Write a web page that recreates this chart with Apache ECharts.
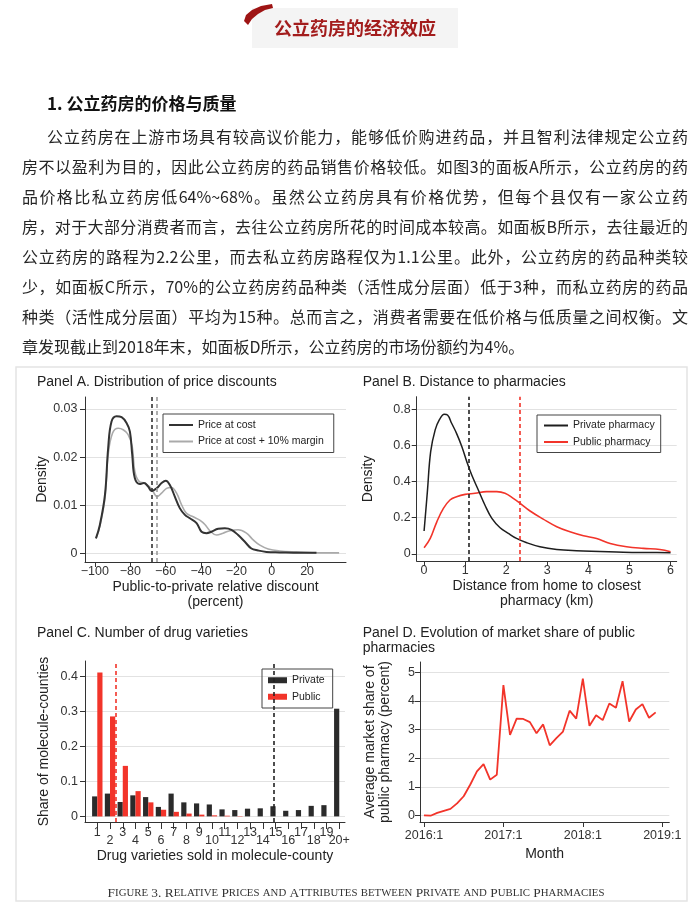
<!DOCTYPE html>
<html>
<head>
<meta charset="utf-8">
<script src="https://cdn.jsdelivr.net/npm/echarts@6.0.0/dist/echarts.min.js"></script>
<style>
html,body{margin:0;padding:0;background:#fff;}
#page{position:relative;width:700px;height:904px;overflow:hidden;background:#fff;}
#chart{position:absolute;left:0;top:0;width:700px;height:904px;}
.h1{position:absolute;left:47px;top:91px;font-family:"Noto Sans CJK SC";font-weight:bold;font-size:17px;line-height:24px;color:#111;z-index:2;white-space:nowrap;}
.art{position:absolute;left:22px;top:121px;width:666px;font-family:"Noto Sans CJK SC";color:#262626;font-size:16px;z-index:2;}
.ln{height:30px;line-height:30px;text-align:justify;text-align-last:justify;}
.ln.first{padding-left:25px;}
.ln.last{text-align:left;text-align-last:left;}
</style>
</head>
<body>
<div id="page">
<div id="chart"></div>
<div class="h1">1. 公立药房的价格与质量</div>
<div class="art" id="art"></div>
</div>
<script>
// ---------- article text ----------
const articleLines = [
  '公立药房在上游市场具有较高议价能力，能够低价购进药品，并且智利法律规定公立药',
  '房不以盈利为目的，因此公立药房的药品销售价格较低。如图3的面板A所示，公立药房的药',
  '品价格比私立药房低64%~68%。虽然公立药房具有价格优势，但每个县仅有一家公立药',
  '房，对于大部分消费者而言，去往公立药房所花的时间成本较高。如面板B所示，去往最近的',
  '公立药房的路程为2.2公里，而去私立药房路程仅为1.1公里。此外，公立药房的药品种类较',
  '少，如面板C所示，70%的公立药房药品种类（活性成分层面）低于3种，而私立药房的药品',
  '种类（活性成分层面）平均为15种。总而言之，消费者需要在低价格与低质量之间权衡。文',
  '章发现截止到2018年末，如面板D所示，公立药房的市场份额约为4%。'
];

// ---------- Panel A: density of price discounts ----------
const panelA_cost = [[-99.4,0.0031],[-97.2,0.0059],[-94.3,0.0122],[-92.5,0.0219],[-90.6,0.0274],[-87.8,0.0285],[-84.9,0.0283],[-82.1,0.0271],[-80.2,0.0253],[-78.9,0.0205],[-77.4,0.0156],[-74.6,0.0144],[-72.3,0.0146],[-69.9,0.0139],[-68,0.0130],[-65.1,0.0135],[-62.3,0.0146],[-59.9,0.0151],[-57.6,0.0142],[-54.8,0.0118],[-52,0.0094],[-49.1,0.0080],[-46.3,0.0073],[-42.5,0.0063],[-39.7,0.0045],[-36.9,0.0042],[-34.1,0.0045],[-30.3,0.0051],[-26.5,0.0052],[-22.8,0.0049],[-19,0.0038],[-15.2,0.0024],[-11.5,0.0010],[-7.7,0.0006],[-3,0.0003],[4.6,0.0002],[15.9,0.0001],[25.3,0.0001]];
const panelA_margin = [[-99.4,0.0031],[-97.2,0.0056],[-94.3,0.0115],[-92.5,0.0205],[-90,0.0250],[-86.8,0.0260],[-84,0.0257],[-81.2,0.0247],[-78.9,0.0222],[-77.4,0.0170],[-74.9,0.0149],[-71.7,0.0146],[-68,0.0134],[-64.8,0.0118],[-62.3,0.0125],[-59.5,0.0135],[-56.7,0.0137],[-53.8,0.0125],[-51,0.0101],[-48.2,0.0083],[-44.4,0.0076],[-40.7,0.0069],[-37.8,0.0060],[-35,0.0047],[-31.2,0.0038],[-27.5,0.0042],[-23.7,0.0047],[-19,0.0049],[-14.3,0.0042],[-10.5,0.0028],[-6.7,0.0017],[-2,0.0009],[4.6,0.0005],[14,0.0003],[27.2,0.0001],[38.1,0.0001]];
const panelA_means = [-68, -65];
const panelA_xTicks = [-100,-80,-60,-40,-20,0,20];
const panelA_yTicks = [0,0.01,0.02,0.03];

// ---------- Panel B: distance to pharmacies ----------
const panelB_private = [[0,0.126],[0.08,0.344],[0.16,0.566],[0.27,0.686],[0.37,0.741],[0.49,0.773],[0.57,0.769],[0.67,0.723],[0.79,0.667],[0.92,0.593],[1.04,0.510],[1.16,0.436],[1.32,0.353],[1.48,0.270],[1.65,0.196],[1.85,0.144],[2.05,0.113],[2.25,0.085],[2.5,0.061],[2.82,0.039],[3.23,0.024],[3.71,0.017],[4.28,0.013],[4.85,0.009],[5.5,0.007],[6,0.006]];
const panelB_public = [[0,0.033],[0.15,0.085],[0.31,0.177],[0.47,0.251],[0.63,0.298],[0.79,0.316],[1.0,0.329],[1.24,0.335],[1.52,0.344],[1.77,0.344],[1.97,0.335],[2.17,0.307],[2.34,0.279],[2.58,0.237],[2.9,0.192],[3.23,0.150],[3.55,0.122],[3.88,0.100],[4.2,0.085],[4.53,0.057],[4.93,0.039],[5.34,0.030],[5.74,0.024],[6,0.011]];
const panelB_means = [1.08, 2.32];
const panelB_xTicks = [0,1,2,3,4,5,6];
const panelB_yTicks = [0,0.2,0.4,0.6,0.8];

// ---------- Panel C: number of drug varieties ----------
const varietyCats = [1,2,3,4,5,6,7,8,9,10,11,12,13,14,15,16,17,18,19,20];
const varietyLabels = ['1','2','3','4','5','6','7','8','9','10','11','12','13','14','15','16','17','18','19','20+'];
const privateShare = [0.057,0.065,0.041,0.060,0.055,0.027,0.065,0.040,0.037,0.034,0.020,0.018,0.022,0.023,0.029,0.016,0.018,0.030,0.032,0.307];
const publicShare  = [0.410,0.285,0.144,0.072,0.040,0.019,0.013,0.008,0.005,0.003,0.002,0.001,0,0,0,0,0,0,0,0];
const panelC_means = [15.03, 2.26];
const panelC_yTicks = [0,0.1,0.2,0.3,0.4];

// ---------- Panel D: market share over months ----------
const monthTickPos = [0,12,24,36];
const monthLabels = ['2016:1','2017:1','2018:1','2019:1'];
const marketShare = [0.0,-0.01,0.09,0.16,0.23,0.42,0.67,1.08,1.54,1.79,1.25,1.42,4.55,2.81,3.38,3.37,3.26,2.87,3.18,2.45,2.70,2.93,3.66,3.38,4.78,3.13,3.50,3.33,3.91,3.76,4.69,3.28,3.70,3.89,3.41,3.60];
const panelD_yTicks = [0,1,2,3,4,5];

// ---------- build article ----------
const art = document.getElementById('art');
articleLines.forEach((t,i)=>{
  const d = document.createElement('div');
  d.className = 'ln' + (i===0?' first':'') + (i===articleLines.length-1?' last':'');
  d.textContent = t;
  art.appendChild(d);
});

// ---------- chart ----------
const FONT = 'Liberation Sans';
const INK = '#333';
const RED = '#f2342a';

function fmtNum(d){ return function(v){ return v===0 ? '0' : (v<0 ? '\u2212'+Math.abs(v).toFixed(d) : v.toFixed(d)); }; }

function xValueAxis(gi, min, max, ticks, fmt, name, nameGap, margin, extra){
  const ax = {
    type:'value', gridIndex:gi, min:min, max:max, position:'bottom',
    axisLine:{show:true,onZero:false,lineStyle:{color:INK,width:1}},
    axisTick:{show:true,length:5,customValues:ticks,lineStyle:{color:INK,width:1}},
    axisLabel:{customValues:ticks,formatter:fmt,margin:margin,color:INK,fontSize:12.5,fontFamily:FONT},
    splitLine:{show:false},
    name:name,nameLocation:'middle',nameGap:nameGap,
    nameTextStyle:{fontSize:14,lineHeight:15,color:'#222',fontFamily:FONT}
  };
  return Object.assign(ax, extra||{});
}
function yValueAxis(gi, min, max, ticks, fmt, name, nameGap, margin){
  return {
    type:'value', gridIndex:gi, min:min, max:max, position:'left',
    axisLine:{show:true,onZero:false,lineStyle:{color:INK,width:1}},
    axisTick:{show:true,length:5,customValues:ticks,lineStyle:{color:INK,width:1}},
    axisLabel:{customValues:ticks,formatter:fmt,margin:margin,color:INK,fontSize:12.5,fontFamily:FONT},
    splitLine:{show:true,lineStyle:{color:'#e2e2e2',width:1}},
    name:name,nameLocation:'middle',nameGap:nameGap,
    nameTextStyle:{fontSize:14,lineHeight:15,color:'#222',fontFamily:FONT}
  };
}
function vLine(x, color){
  return {silent:true,symbol:['none','none'],label:{show:false},
    lineStyle:{type:[4,3],width:1.6,color:color},data:[{xAxis:x}],animation:false};
}

const chart = echarts.init(document.getElementById('chart'));

const capRich = '{b|F}{s|IGURE} {b|3. R}{s|ELATIVE} {b|P}{s|RICES} {s|AND} {b|A}{s|TTRIBUTES} {s|BETWEEN} {b|P}{s|RIVATE} {s|AND} {b|P}{s|UBLIC} {b|P}{s|HARMACIES}';

const legendText = {fontSize:10.5,color:'#222',fontFamily:FONT};

const option = {
  animation:false,
  textStyle:{fontFamily:FONT},
  grid:[
    {left:85, top:397, width:261, height:165},
    {left:416.7, top:396.7, width:260, height:164.3},
    {left:85, top:661, width:260, height:161},
    {left:420, top:662, width:249.3, height:160}
  ],
  xAxis:[
    xValueAxis(0,-105.6,42,panelA_xTicks,fmtNum(0),'Public-to-private relative discount\n(percent)',18,3),
    xValueAxis(1,-0.18,6.15,panelB_xTicks,fmtNum(0),'Distance from home to closest\npharmacy (km)',18,3),
    xValueAxis(2,0.035,20.45,varietyCats,function(v){return (v%2===1)?varietyLabels[v-1]:'';},'Drug varieties sold in molecule-county',27,4,
      {axisTick:{show:true,length:7,customValues:varietyCats,lineStyle:{color:INK,width:1}}}),
    xValueAxis(2,0.035,20.45,varietyCats.filter(v=>v%2===0),function(v){return varietyLabels[v-1];},'',0,12.5,
      {axisLine:{show:false,onZero:false},axisTick:{show:false}}),
    xValueAxis(3,-0.6,37.06,monthTickPos,function(v){return monthLabels[monthTickPos.indexOf(v)];},'Month',25,7)
  ],
  yAxis:[
    yValueAxis(0,-0.0018,0.0325,panelA_yTicks,fmtNum(2),'Density',35,7.5),
    yValueAxis(1,-0.04,0.87,panelB_yTicks,fmtNum(1),'Density',41,6),
    yValueAxis(2,-0.016,0.443,panelC_yTicks,fmtNum(1),'Share of molecule-counties',33,7),
    yValueAxis(3,-0.23,5.36,panelD_yTicks,fmtNum(0),'Average market share of\npublic pharmacy (percent)',27,5)
  ],
  legend:[
    {data:[{name:'Price at cost',icon:'rect'},{name:'Price at cost + 10% margin',icon:'rect'}],orient:'vertical',left:163,top:414,
     padding:[5.5,10,5.5,6],itemGap:5.5,itemWidth:24,itemHeight:2,borderColor:'#444',borderWidth:1,
     selectedMode:false,textStyle:legendText},
    {data:[{name:'Private pharmacy',icon:'rect'},{name:'Public pharmacy',icon:'rect'}],orient:'vertical',left:537,top:415,
     padding:[5,6,5,7],itemGap:5.5,itemWidth:24,itemHeight:2,borderColor:'#444',borderWidth:1,
     selectedMode:false,textStyle:legendText},
    {data:['Private','Public'],orient:'vertical',left:262,top:669,
     padding:[5.75,8,5.75,6],itemGap:5.5,itemWidth:19,itemHeight:6,borderColor:'#444',borderWidth:1,
     selectedMode:false,icon:'rect',textStyle:legendText}
  ],
  series:[
    {name:'Price at cost + 10% margin',type:'line',xAxisIndex:0,yAxisIndex:0,data:panelA_margin,smooth:0.4,
     symbol:'none',lineStyle:{color:'#aaaaaa',width:1.6},itemStyle:{color:'#aaaaaa'},markLine:vLine(panelA_means[1],'#9a9a9a'),z:2},
    {name:'Price at cost',type:'line',xAxisIndex:0,yAxisIndex:0,data:panelA_cost,smooth:0.4,
     symbol:'none',lineStyle:{color:'#333',width:2},itemStyle:{color:'#333'},markLine:vLine(panelA_means[0],'#333'),z:3},
    {name:'Private pharmacy',type:'line',xAxisIndex:1,yAxisIndex:1,data:panelB_private,smooth:0.4,
     symbol:'none',lineStyle:{color:'#1e1e1e',width:1.5},itemStyle:{color:'#1e1e1e'},markLine:vLine(panelB_means[0],'#222'),z:3},
    {name:'Public pharmacy',type:'line',xAxisIndex:1,yAxisIndex:1,data:panelB_public,smooth:0.4,
     symbol:'none',lineStyle:{color:RED,width:1.6},itemStyle:{color:RED},markLine:vLine(panelB_means[1],RED),z:2},
    {name:'Private',type:'bar',xAxisIndex:2,yAxisIndex:2,data:varietyCats.map((c,i)=>[c,privateShare[i]]),
     barWidth:5.2,barGap:'0%',itemStyle:{color:'#2b2b2b'},markLine:vLine(panelC_means[0],'#222')},
    {name:'Public',type:'bar',xAxisIndex:2,yAxisIndex:2,data:varietyCats.map((c,i)=>[c,publicShare[i]]),
     barWidth:5.2,barGap:'0%',itemStyle:{color:RED},markLine:vLine(panelC_means[1],RED)},
    {name:'Market share',type:'line',xAxisIndex:4,yAxisIndex:3,data:marketShare.map((v,i)=>[i,v]),
     symbol:'none',lineStyle:{color:RED,width:1.8},itemStyle:{color:RED}}
  ],
  graphic:[
    {type:'rect',shape:{x:252,y:8,width:206,height:40},style:{fill:'#f4f4f4'},z:1},
    {type:'polygon',shape:{points:[[244,21],[246,15],[252,10],[261,6],[272,4],[273,8],[265,10],[258,14],[252,19],[248,25]]},style:{fill:'#9e1414'},z:2},
    {type:'text',x:355,y:28,style:{text:'公立药房的经济效应',fill:'#a31d1d',font:'bold 18px "Noto Sans CJK SC"',align:'center',verticalAlign:'middle'},z:3},
    {type:'rect',shape:{x:16,y:367,width:671,height:534},style:{fill:'none',stroke:'#e4e4e4',lineWidth:1.5},z:0},
    {type:'text',x:37,y:382,style:{text:'Panel A. Distribution of price discounts',fill:'#222',font:'14px "Liberation Sans"',verticalAlign:'middle'}},
    {type:'text',x:362.7,y:382,style:{text:'Panel B. Distance to pharmacies',fill:'#222',font:'14px "Liberation Sans"',verticalAlign:'middle'}},
    {type:'text',x:37,y:633,style:{text:'Panel C. Number of drug varieties',fill:'#222',font:'14px "Liberation Sans"',verticalAlign:'middle'}},
    {type:'text',x:362.7,y:625,style:{text:'Panel D. Evolution of market share of public\npharmacies',fill:'#222',font:'14px "Liberation Sans"',lineHeight:15.6,verticalAlign:'top'}},
    {type:'text',x:356,y:893,style:{text:capRich,fill:'#333',align:'center',verticalAlign:'middle',
      rich:{b:{fontSize:13.4,fontFamily:'Liberation Serif',fill:'#333'},s:{fontSize:10.8,fontFamily:'Liberation Serif',fill:'#333'}},
      fontFamily:'Liberation Serif',fontSize:13.4}}
  ]
};
chart.setOption(option);
</script>
</body>
</html>
